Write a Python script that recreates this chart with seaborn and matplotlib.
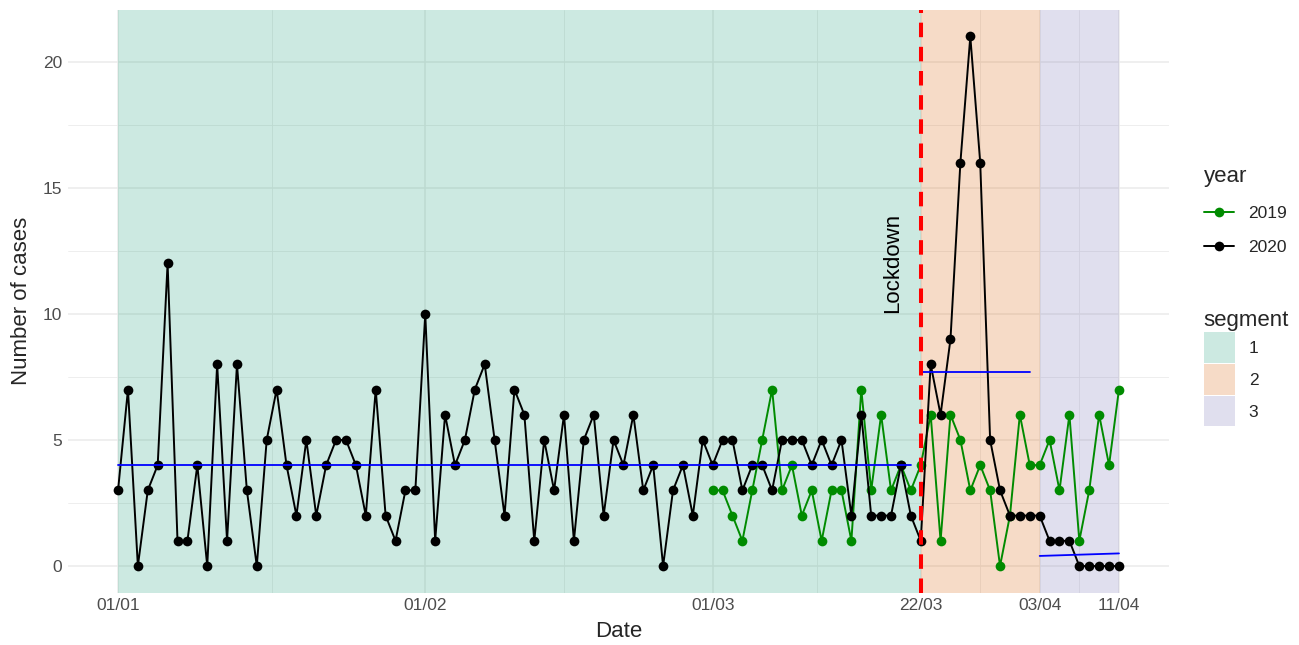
import numpy as np
import pandas as pd
import seaborn as sns
import matplotlib.pyplot as plt
import matplotlib.dates as mdates
from matplotlib.lines import Line2D
from matplotlib.patches import Patch

# daily case counts, 2020: 01/01 .. 11/04
cases_2020 = [3, 7, 0, 3, 4, 12, 1, 1, 4, 0, 8, 1, 8, 3, 0, 5, 7, 4, 2, 5, 2, 4, 5, 5, 4, 2, 7, 2, 1, 3, 3,
              10, 1, 6, 4, 5, 7, 8, 5, 2, 7, 6, 1, 5, 3, 6, 1, 5, 6, 2, 5, 4, 6, 3, 4, 0, 3, 4, 2, 5,
              4, 5, 5, 3, 4, 4, 3, 5, 5, 5, 4, 5, 4, 5, 2, 6, 2, 2, 2, 4, 2, 1, 8, 6, 9, 16, 21, 16, 5, 3, 2,
              2, 2, 2, 1, 1, 1, 0, 0, 0, 0, 0]
# same period of 2019: 01/03 .. 11/04
cases_2019 = [3, 3, 2, 1, 3, 5, 7, 3, 4, 2, 3, 1, 3, 3, 1, 7, 3, 6, 3, 4, 3, 4, 6, 1, 6, 5, 3, 4, 3, 0, 2,
              6, 4, 4, 5, 3, 6, 1, 3, 6, 4, 7]

# segments (start, end, fitted level at start / end)
seg_names = ["1", "2", "3"]
seg_start = ["2020-01-01", "2020-03-22", "2020-04-03"]
seg_end = ["2020-03-22", "2020-04-03", "2020-04-11"]
fit_start = ["2020-01-01", "2020-03-22", "2020-04-03"]
fit_end = ["2020-03-21", "2020-04-02", "2020-04-11"]
fit_from = [4.0, 7.7, 0.4]
fit_to = [4.0, 7.7, 0.5]
seg_colors = ["#1b9e77", "#d95f02", "#7570b3"]
seg_alpha = 0.22

lockdown = "2020-03-22"
breaks = ["2020-01-01", "2020-02-01", "2020-03-01", "2020-03-22", "2020-04-03", "2020-04-11"]
minor_breaks = ["2020-01-16 12:00", "2020-02-15", "2020-03-11 12:00", "2020-03-28", "2020-04-07"]

df = pd.concat([
    pd.DataFrame({"date": pd.date_range("2020-01-01", periods=len(cases_2020)),
                  "cases": cases_2020, "year": "2020"}),
    pd.DataFrame({"date": pd.date_range("2020-03-01", periods=len(cases_2019)),
                  "cases": cases_2019, "year": "2019"}),
])

sns.set_style("white")
plt.rcParams["font.family"] = ["Liberation Sans", "DejaVu Sans"]

fig = plt.figure(figsize=(12.99, 6.45), dpi=100)
ax = fig.add_axes([68 / 1299, 52.5 / 645, (1169 - 68) / 1299, (592.5 - 10) / 645])

# grid
for yv in [0, 5, 10, 15, 20]:
    ax.axhline(yv, color="#ebebeb", lw=1.1, zorder=0)
for yv in [2.5, 7.5, 12.5, 17.5]:
    ax.axhline(yv, color="#ebebeb", lw=0.6, zorder=0)
for b in breaks:
    ax.axvline(pd.Timestamp(b), color="#ebebeb", lw=1.1, zorder=0)
for b in minor_breaks:
    ax.axvline(pd.Timestamp(b), color="#ebebeb", lw=0.6, zorder=0)

# segment backgrounds
for s, e, c in zip(seg_start, seg_end, seg_colors):
    ax.axvspan(pd.Timestamp(s), pd.Timestamp(e), color=c, alpha=seg_alpha, lw=0, zorder=1)

sns.lineplot(data=df, x="date", y="cases", hue="year", hue_order=["2019", "2020"],
             palette={"2019": "#008b00", "2020": "black"}, marker="o", markersize=7,
             markeredgewidth=0, linewidth=1.4, legend=False, ax=ax, zorder=3)

# segment fits
for s, e, a, b in zip(fit_start, fit_end, fit_from, fit_to):
    ax.plot([pd.Timestamp(s), pd.Timestamp(e)], [a, b], color="blue", lw=1.3, zorder=4)

ax.axvline(pd.Timestamp(lockdown), color="#ff0000", lw=2.9, dashes=(3.6, 2.4), zorder=5)
ax.text(pd.Timestamp("2020-03-19 05:00"), 12, "Lockdown", rotation=90, ha="center", va="center",
        fontsize=16, color="black", zorder=6)

x0 = pd.Timestamp("2020-01-01") - pd.Timedelta(days=5.05)
x1 = pd.Timestamp("2020-04-11") + pd.Timedelta(days=5.05)
ax.set_xlim(x0, x1)
ax.set_ylim(-1.05, 22.05)
ax.set_xticks([pd.Timestamp(b) for b in breaks])
ax.xaxis.set_major_formatter(mdates.DateFormatter("%d/%m"))
ax.set_yticks([0, 5, 10, 15, 20])
ax.tick_params(axis="both", length=0, labelsize=12.5, labelcolor="#4d4d4d", pad=4)
ax.set_xlabel("Date", fontsize=16, labelpad=6)
ax.set_ylabel("Number of cases", fontsize=16, labelpad=8)
for sp in ax.spines.values():
    sp.set_visible(False)

year_handles = [Line2D([], [], color="#008b00", marker="o", markersize=7, markeredgewidth=0, lw=1.4),
                Line2D([], [], color="black", marker="o", markersize=7, markeredgewidth=0, lw=1.4)]
leg1 = fig.legend(year_handles, ["2019", "2020"], title="year", loc="upper left",
                  bbox_to_anchor=(1188 / 1299, 1 - 150 / 645), frameon=False, fontsize=12.5,
                  title_fontsize=16, alignment="left", handlelength=1.75, labelspacing=1.1,
                  handletextpad=0.8)
seg_handles = [Patch(facecolor=c, alpha=seg_alpha, lw=0) for c in seg_colors]
leg2 = fig.legend(seg_handles, seg_names, title="segment", loc="upper left",
                  bbox_to_anchor=(1188 / 1299, 1 - 294 / 645), frameon=False, fontsize=12.5,
                  title_fontsize=16, alignment="left", handlelength=1.8, handleheight=2.3,
                  labelspacing=0.1, handletextpad=0.8)

fig.savefig("out.png", dpi=100)
